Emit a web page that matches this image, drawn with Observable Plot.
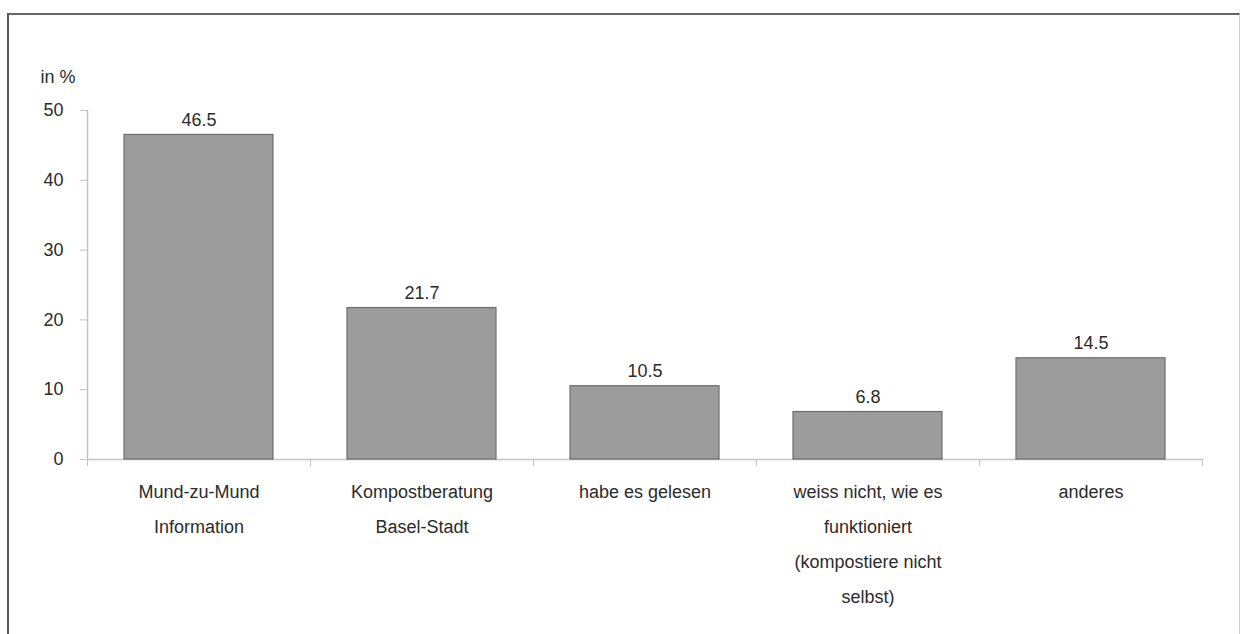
<!DOCTYPE html>
<html>
<head>
<meta charset="utf-8">
<script src="https://cdn.jsdelivr.net/npm/d3@7"></script>
<script src="https://cdn.jsdelivr.net/npm/@observablehq/plot@0.6"></script>
<style>
  html, body { margin: 0; padding: 0; background: #fff; }
  #wrap { position: relative; width: 1241px; height: 634px; overflow: hidden; }
  #frame { position: absolute; left: 7px; top: 13px; width: 1230px; height: 660px;
           border-top: 2px solid #666; border-left: 2px solid #555; border-right: 1px solid #ccc; }
  #chart { position: absolute; left: 0; top: 0; }
</style>
</head>
<body>
<div id="wrap"><div id="frame"></div><div id="chart"></div></div>
<script>
const categories = [
  "Mund-zu-Mund Information",
  "Kompostberatung Basel-Stadt",
  "habe es gelesen",
  "weiss nicht, wie es funktioniert (kompostiere nicht selbst)",
  "anderes"
];
const tickLabels = [
  "Mund-zu-Mund\nInformation",
  "Kompostberatung\nBasel-Stadt",
  "habe es gelesen",
  "weiss nicht, wie es\nfunktioniert\n(kompostiere nicht\nselbst)",
  "anderes"
];
const values = [46.5, 21.7, 10.5, 6.8, 14.5];
const yTicks = [0, 10, 20, 30, 40, 50];
const yUnit = "in %";

const data = categories.map((c, i) => ({cat: c, label: tickLabels[i], value: values[i]}));

const W = 1241, H = 634;
const mL = 87, mR = 39;
const step = (W - mL - mR) / categories.length;
const font = "'Liberation Sans', Arial, sans-serif";

const plot = Plot.plot({
  width: W,
  height: H,
  marginLeft: mL,
  marginRight: mR,
  marginTop: 110,
  marginBottom: 175,
  style: {fontFamily: font, color: "#2b2b2b", background: "transparent"},
  x: {domain: categories, paddingInner: 0.33, paddingOuter: 0.165, axis: null},
  y: {domain: [0, 50], axis: null},
  marks: [
    Plot.frame({anchor: "left", stroke: "#c4c4c4", strokeWidth: 1.5}),
    Plot.ruleY([0], {stroke: "#c4c4c4", strokeWidth: 1.5}),
    Plot.axisY({ticks: yTicks, tickSize: 7, tickPadding: 17, fontSize: 18, stroke: "#c4c4c4",
                label: null, style: {letterSpacing: "2.5px"}}),
    Plot.axisX({ticks: categories, tickSize: 7, tickFormat: () => "", dx: -step / 2, stroke: "#c4c4c4", label: null}),
    Plot.axisX({ticks: categories.slice(-1), tickSize: 7, tickFormat: () => "", dx: step / 2, stroke: "#c4c4c4", label: null}),
    Plot.barY(data, {x: "cat", y: "value", fill: "#9c9c9c", stroke: "#6e6e6e", strokeWidth: 1.2}),
    Plot.text(data, {x: "cat", y: "value", text: d => d.value.toFixed(1), dy: -15, fontSize: 18, fill: "#2b2b2b"}),
    Plot.text(data, {x: "cat", y: 0, text: "label", lineAnchor: "top", dy: 14, lineHeight: 1.94,
                     fontSize: 18, fill: "#2b2b2b"}),
    Plot.text([yUnit], {frameAnchor: "top-left", text: d => d, dx: -47, dy: -40, textAnchor: "start",
                        fontSize: 18, fill: "#2b2b2b"})
  ]
});
document.getElementById("chart").appendChild(plot);
</script>
</body>
</html>
